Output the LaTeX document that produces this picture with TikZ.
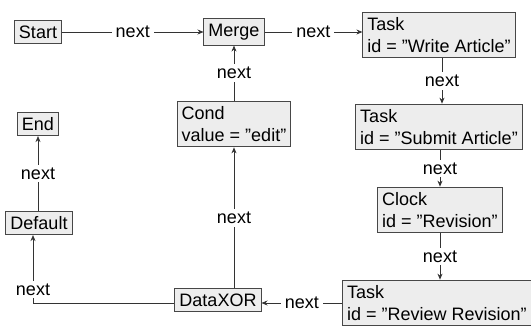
\documentclass[tikz,border=0pt]{standalone}
\usepackage{fontspec}
\setmainfont{Liberation Sans}
\usetikzlibrary{arrows.meta}

\tikzset{
    block/.style={draw=black!72, fill=black!7, line width=1pt, inner xsep=4.5pt, inner ysep=5pt, align=left, font=\fontsize{18}{22.5}\selectfont},
    link/.style={draw=black!80, line width=0.7pt, -{Stealth[length=6pt,width=5pt,inset=2pt]}},
    lbl/.style={fill=white, inner xsep=4pt, inner ysep=3pt, font=\fontsize{18}{22}\selectfont}
}

\begin{document}
\begin{tikzpicture}[x=1pt, y=-1pt]
    \useasboundingbox (0,0) rectangle (531,329);

    % top row
    \node[block] (start) at (38,32) {Start};
    \node[block] (merge) at (234,32) {Merge};
    \node[block] (write) at (439,35) {Task\\id = ”Write Article”};

    % right column
    \node[block] (submit) at (439,127) {Task\\id = ”Submit Article”};
    \node[block] (clock) at (440,210) {Clock\\id = ”Revision”};
    \node[block] (review) at (437,303) {Task\\id = ”Review Revision”};

    % middle and left
    \node[block] (cond) at (234,124) {Cond\\value = ”edit”};
    \node[block] (xor) at (218,300) {DataXOR};
    \node[block] (default) at (39,223) {Default};
    \node[block] (end) at (38,124) {End};

    \coordinate (corner) at (33,303);

    % connectors
    \draw[link] (start) -- node[lbl] {next} (merge);
    \draw[link] (merge) -- node[lbl] {next} (merge -| write.west);
    \draw[link] (write.south -| 442,0) -- node[lbl] {next} (submit.north -| 442,0);
    \draw[link] (submit.south -| 440,0) -- node[lbl] {next} (clock.north -| 440,0);
    \draw[link] (clock) -- node[lbl] {next} (clock |- review.north);
    \draw[link] (review.west |- corner) -- node[lbl] {next} (xor.east |- corner);
    \draw[link] (xor.west |- corner) -- (corner) -- node[lbl, pos=0.2] {next} (corner |- default.south);
    \draw[link] (default.north -| end) -- node[lbl] {next} (end);
    \draw[link] (xor.north -| cond) -- node[lbl] {next} (cond);
    \draw[link] (cond) -- node[lbl] {next} (merge);
\end{tikzpicture}
\end{document}
